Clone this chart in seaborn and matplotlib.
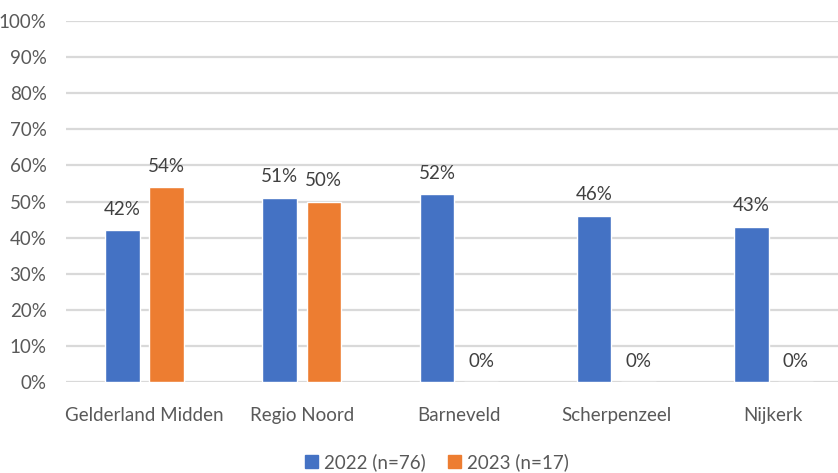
import matplotlib
matplotlib.use("Agg")
import matplotlib.pyplot as plt
import matplotlib.patches as mpatches
import pandas as pd
import seaborn as sns

regions = ["Gelderland Midden", "Regio Noord", "Barneveld", "Scherpenzeel", "Nijkerk"]
series_2022 = [42, 51, 52, 46, 43]
series_2023 = [54, 50, 0, 0, 0]
series_names = ["2022 (n=76)", "2023 (n=17)"]
colors = ["#4472C4", "#ED7D31"]

df = pd.DataFrame({
    "region": regions * 2,
    "value": series_2022 + series_2023,
    "series": [series_names[0]] * len(regions) + [series_names[1]] * len(regions),
})

sns.set_style("white")
plt.rcParams["font.family"] = ["Lato", "DejaVu Sans"]
fs = 13.5

fig = plt.figure(figsize=(8.38, 4.73), dpi=100)
ax = fig.add_axes([66 / 838, 91 / 473, 786 / 838, 361 / 473])

sns.barplot(data=df, x="region", y="value", hue="series", palette=colors,
            width=0.56, gap=0.214, ax=ax, legend=False, saturation=1)

for c in ax.containers:
    ax.bar_label(c, labels=[f"{v:.0f}%" for v in c.datavalues], padding=9,
                 fontsize=fs, color="#404040")

ax.set_ylim(0, 100)
ax.set_xlim(-0.5, len(regions) - 0.5)
ax.set_yticks(range(0, 101, 10))
ax.set_yticklabels([f"{t}%" for t in range(0, 101, 10)])
ax.yaxis.grid(True, color="#D9D9D9", linewidth=1.6)
ax.set_axisbelow(True)
for s in ax.spines.values():
    s.set_visible(False)
ax.tick_params(axis="both", length=0, labelsize=fs, labelcolor="#595959")
ax.tick_params(axis="x", pad=18)
ax.tick_params(axis="y", pad=14)
ax.set_xlabel("")
ax.set_ylabel("")

handles = [mpatches.Patch(color=c, label=n) for c, n in zip(colors, series_names)]
fig.legend(handles=handles, loc="center", bbox_to_anchor=(437 / 838, 1 - 462 / 473),
           ncol=2, frameon=False, fontsize=fs, handlelength=0.7, handleheight=0.7,
           handletextpad=0.3, columnspacing=1.2, labelcolor="#595959")

fig.savefig("out.png", dpi=100)
